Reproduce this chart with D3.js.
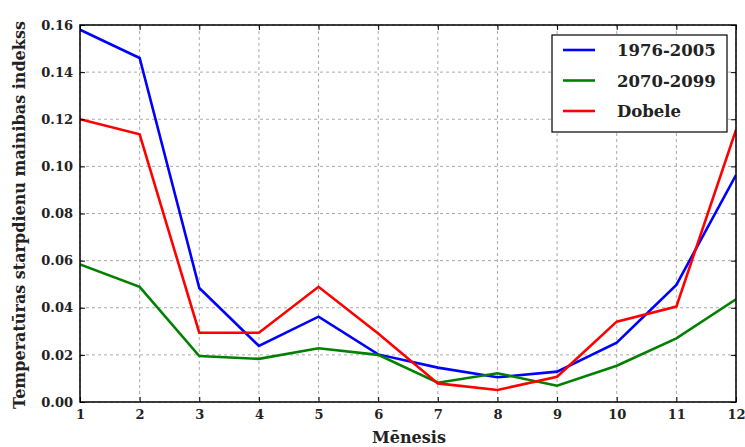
<!DOCTYPE html>
<html><head><meta charset="utf-8">
<script src="https://cdn.jsdelivr.net/npm/d3@7"></script>
<style>body{margin:0;background:#fff}svg{display:block}text{font-family:"DejaVu Serif",serif;font-weight:bold}</style>
</head><body>
<svg id="c" width="745" height="447"></svg>
<script>
const months = [1,2,3,4,5,6,7,8,9,10,11,12];
const seriesNames = ["1976-2005","2070-2099","Dobele"];
const seriesColors = ["#0000ff","#008000","#ff0000"];
const s1976 = [0.158,0.146,0.0484,0.0238,0.0362,0.0202,0.0146,0.0105,0.0129,0.0252,0.0497,0.0963];
const s2070 = [0.0584,0.0489,0.0195,0.0183,0.0228,0.0200,0.0082,0.0122,0.0069,0.0154,0.0270,0.0436];
const sDobele = [0.120,0.1136,0.0294,0.0294,0.0489,0.0291,0.0079,0.0051,0.0107,0.0341,0.0405,0.1155];
const yTicks = [0,0.02,0.04,0.06,0.08,0.10,0.12,0.14,0.16];
const xLabel = "Mēnesis";
const yLabel = "Temperatūras starpdienu mainibas indekss";

const svg = d3.select("#c");
const L=80,R=736,T=25,B=402;
const x = d3.scaleLinear().domain([1,12]).range([L,R]);
const y = d3.scaleLinear().domain([0,0.16]).range([B,T]);

// grid
const g = svg.append("g");
g.selectAll(".gx").data(months).join("line").attr("x1",d=>x(d)).attr("x2",d=>x(d)).attr("y1",T).attr("y2",B)
 .attr("stroke","#aaa").attr("stroke-width",1).attr("stroke-dasharray","3,3");
g.selectAll(".gy").data(yTicks).join("line").attr("y1",d=>y(d)).attr("y2",d=>y(d)).attr("x1",L).attr("x2",R)
 .attr("stroke","#aaa").attr("stroke-width",1).attr("stroke-dasharray","3,3");

// lines
const line = d3.line().x((d,i)=>x(months[i])).y(d=>y(d));
const data = [s1976,s2070,sDobele];
svg.append("clipPath").attr("id","cp").append("rect").attr("x",L).attr("y",T).attr("width",R-L).attr("height",B-T);
svg.append("g").attr("clip-path","url(#cp)").selectAll("path").data(data).join("path")
 .attr("d",line).attr("fill","none").attr("stroke",(d,i)=>seriesColors[i]).attr("stroke-width",2.6).attr("stroke-linejoin","miter");

// axes with inward ticks
const ax = svg.append("g").attr("transform",`translate(0,${B})`).call(d3.axisBottom(x).tickValues(months).tickFormat(d3.format("d")).tickSizeInner(-5).tickSizeOuter(0).tickPadding(8));
const axT = svg.append("g").attr("transform",`translate(0,${T})`).call(d3.axisTop(x).tickValues(months).tickFormat("").tickSizeInner(-5).tickSizeOuter(0));
const ay = svg.append("g").attr("transform",`translate(${L},0)`).call(d3.axisLeft(y).tickValues(yTicks).tickFormat(d3.format(".2f")).tickSizeInner(-5).tickSizeOuter(0).tickPadding(7));
const ayR = svg.append("g").attr("transform",`translate(${R},0)`).call(d3.axisRight(y).tickValues(yTicks).tickFormat("").tickSizeInner(-5).tickSizeOuter(0));
[ax,axT,ay,ayR].forEach(a=>{a.select(".domain").remove();a.selectAll("line").attr("stroke","#000");a.selectAll("text").attr("font-size",13).attr("font-family","DejaVu Serif").attr("font-weight","bold").attr("fill","#222");});
svg.append("rect").attr("x",L).attr("y",T).attr("width",R-L).attr("height",B-T).attr("fill","none").attr("stroke","#000").attr("stroke-width",1.5);

// labels
svg.append("text").attr("x",409).attr("y",443).attr("text-anchor","middle").attr("font-size",16).attr("fill","#222").text(xLabel);
svg.append("text").attr("transform",`translate(25,215) rotate(-90)`).attr("text-anchor","middle").attr("font-size",16).attr("fill","#222").text(yLabel);

// legend
const lg = svg.append("g");
lg.append("rect").attr("x",552).attr("y",35).attr("width",175).attr("height",97).attr("fill","#fff").attr("stroke","#000").attr("stroke-width",1.2);
seriesNames.forEach((n,i)=>{
  const yy = 50 + i*30.5;
  lg.append("line").attr("x1",563).attr("x2",595).attr("y1",yy).attr("y2",yy).attr("stroke",seriesColors[i]).attr("stroke-width",2.6);
  lg.append("text").attr("x",617).attr("y",yy+6).attr("font-size",16.5).attr("fill","#222").text(n);
});
</script>
</body></html>
